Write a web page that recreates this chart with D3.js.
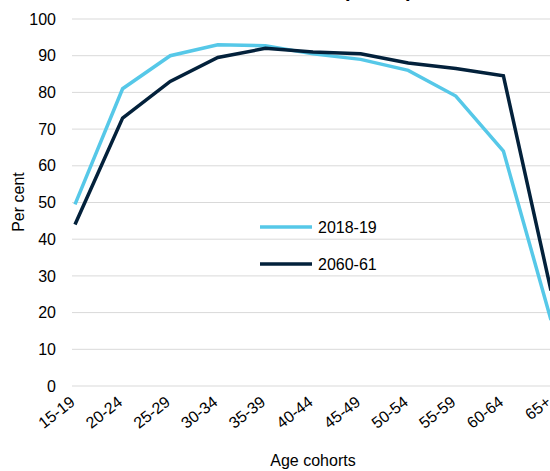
<!DOCTYPE html>
<html><head><meta charset="utf-8">
<script src="https://cdn.jsdelivr.net/npm/d3@7"></script>
<style>body{margin:0;background:#fff;overflow:hidden}</style>
</head><body><div id="chart"></div>
<script>
const categories = ["15-19","20-24","25-29","30-34","35-39","40-44","45-49","50-54","55-59","60-64","65+"];
const series2018 = [49.5, 81, 90, 93, 92.7, 90.5, 89, 86, 79, 64, 18];
const series2060 = [44, 73, 83, 89.5, 92, 91, 90.5, 88, 86.5, 84.5, 26];
const yTicks = [0,10,20,30,40,50,60,70,80,90,100];

const W = 550, H = 471;
const svg = d3.select("#chart").append("svg").attr("width", W).attr("height", H)
  .style("font-family", "Arial, 'Liberation Sans', sans-serif");

const x = d3.scalePoint().domain(categories).range([75, 551]);
const y = d3.scaleLinear().domain([0, 100]).range([386, 19]);

// cut-off title, only descenders visible
svg.append("text").attr("x", 345).attr("y", -3).attr("font-size", 20).attr("font-weight", "bold")
  .text("participation");

svg.append("g").selectAll("line").data(yTicks).join("line")
  .attr("x1", 72).attr("x2", W).attr("y1", d => y(d)).attr("y2", d => y(d))
  .attr("stroke", "#d9d9d9").attr("stroke-width", 1);

svg.append("g").selectAll("text").data(yTicks).join("text")
  .attr("x", 56).attr("y", d => y(d)).attr("dy", "0.35em").attr("text-anchor", "end")
  .attr("font-size", 16).attr("fill", "#000").text(d => d);

svg.append("g").selectAll("text").data(categories).join("text")
  .attr("text-anchor", "end").attr("font-size", 16)
  .attr("transform", d => `translate(${x(d) + 1},${404}) rotate(-38)`).text(d => d);

svg.append("text").attr("x", 313).attr("y", 466).attr("text-anchor", "middle")
  .attr("font-size", 16).text("Age cohorts");
svg.append("text").attr("transform", "translate(24,202) rotate(-90)").attr("text-anchor", "middle")
  .attr("font-size", 16).text("Per cent");

const line = d3.line().x((d, i) => x(categories[i])).y(d => y(d));
svg.append("path").datum(series2018).attr("d", line).attr("fill", "none")
  .attr("stroke", "#56c8e8").attr("stroke-width", 3.5);
svg.append("path").datum(series2060).attr("d", line).attr("fill", "none")
  .attr("stroke", "#03213b").attr("stroke-width", 3.5);

const legend = [["2018-19", "#56c8e8"], ["2060-61", "#03213b"]];
legend.forEach(([t, c], i) => {
  const ly = 227 + i * 37;
  svg.append("line").attr("x1", 260).attr("x2", 312).attr("y1", ly).attr("y2", ly)
    .attr("stroke", c).attr("stroke-width", 3.5);
  svg.append("text").attr("x", 318).attr("y", ly).attr("dy", "0.35em").attr("font-size", 16).text(t);
});
</script></body></html>
